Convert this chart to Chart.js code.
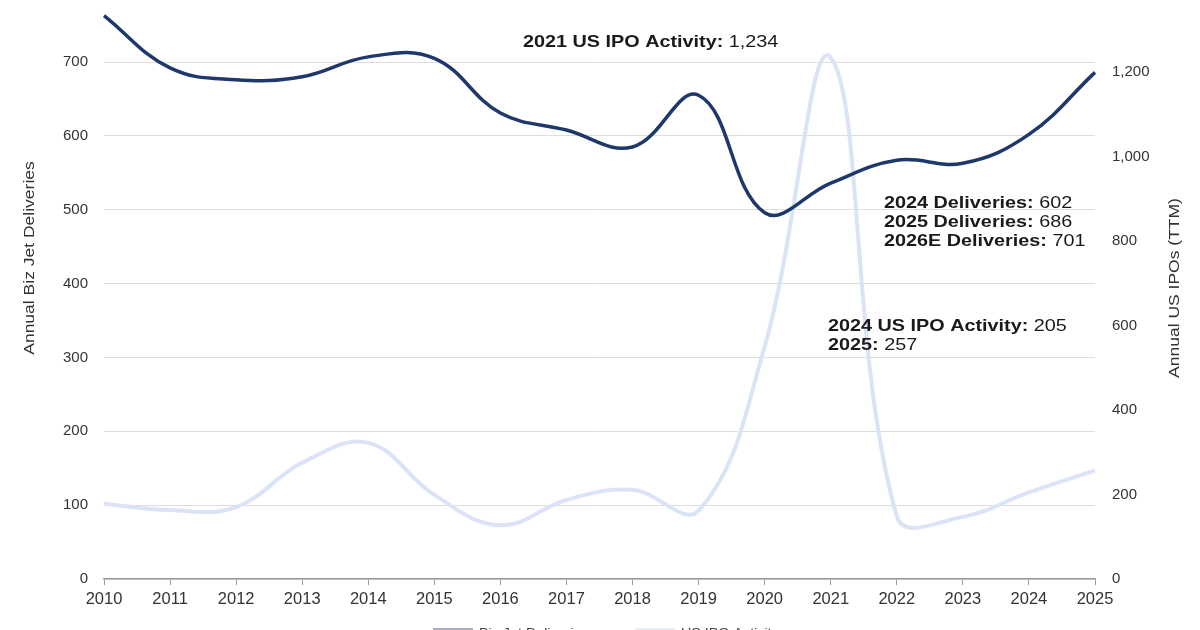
<!DOCTYPE html>
<html>
<head>
<meta charset="utf-8">
<script src="https://cdn.jsdelivr.net/npm/chart.js@4"></script>
<style>
html,body{margin:0;padding:0;background:#fff;overflow:hidden;}
#wrap{position:relative;width:1200px;height:630px;}
</style>
</head>
<body>
<div id="wrap"><canvas id="c"></canvas></div>
<script>
const years = ['2010','2011','2012','2013','2014','2015','2016','2017','2018','2019','2020','2021','2022','2023','2024','2025'];
const bizJetDeliveries = [763, 692, 676, 680, 707, 705, 631, 608, 585, 655, 496, 536, 567, 563, 602, 686];
const usIpoActivity = [178, 163, 170, 275, 322, 199, 127, 187, 211, 162, 550, 1234, 148, 147, 205, 257];
const leftTicks = [0, 100, 200, 300, 400, 500, 600, 700];
const rightTicks = [0, 200, 400, 600, 800, 1000, 1200];
const seriesNames = ['Biz Jet Deliveries', 'US IPO Activity'];
const axisTitles = ['Annual Biz Jet Deliveries', 'Annual US IPOs (TTM)'];
const annotations = [
  {lines: [[['2021 US IPO Activity: ', true], ['1,234', false]]], x: 523, y: 42},
  {lines: [
    [['2024 Deliveries: ', true], ['602', false]],
    [['2025 Deliveries: ', true], ['686', false]],
    [['2026E Deliveries: ', true], ['701', false]]
  ], x: 884, y: 203},
  {lines: [
    [['2024 US IPO Activity: ', true], ['205', false]],
    [['2025: ', true], ['257', false]]
  ], x: 828, y: 326}
];

const FONT = '"Liberation Sans", Arial, Helvetica, sans-serif';
const DARK = '#1e386b';
const LIGHT = '#dbe3f6';

const overlay = {
  id: 'overlay',
  afterDraw(chart) {
    const ctx = chart.ctx;
    ctx.save();
    ctx.fillStyle = '#333';
    ctx.font = '14px ' + FONT;
    ctx.textAlign = 'center';
    ctx.textBaseline = 'middle';
    ctx.save(); ctx.translate(30, 258); ctx.rotate(-Math.PI/2); ctx.scale(1.25, 1); ctx.fillText(axisTitles[0], 0, 0); ctx.restore();
    ctx.save(); ctx.translate(1175, 288); ctx.rotate(-Math.PI/2); ctx.scale(1.25, 1); ctx.fillText(axisTitles[1], 0, 0); ctx.restore();
    // legend (mostly cut off at the bottom edge, as in the reference)
    const legendX = [433, 635];
    chart.data.datasets.forEach((ds, i) => {
      const x0 = legendX[i];
      ctx.strokeStyle = i === 0 ? '#8a93a6' : '#e3e8f4';
      ctx.lineWidth = 1.5;
      ctx.beginPath(); ctx.moveTo(x0, 629); ctx.lineTo(x0 + 40, 629); ctx.stroke();
      ctx.save();
      ctx.translate(x0 + 46, 633);
      ctx.scale(1.1, 1);
      ctx.textAlign = 'left';
      ctx.fillStyle = '#444';
      ctx.font = '13px ' + FONT;
      ctx.fillText(ds.label, 0, 0);
      ctx.restore();
    });
    ctx.textAlign = 'left';
    ctx.fillStyle = '#1a1a1a';
    annotations.forEach(a => {
      a.lines.forEach((ln, i) => {
        const y = a.y + i * 19;
        ctx.save();
        ctx.translate(a.x, y);
        ctx.scale(1.2, 1);
        let x = 0;
        ln.forEach(([t, b]) => {
          ctx.font = (b ? 'bold ' : '') + '16.5px ' + FONT;
          ctx.fillText(t, x, 0);
          x += ctx.measureText(t).width;
        });
        ctx.restore();
      });
    });
    ctx.restore();
  }
};

new Chart(document.getElementById('c'), {
  type: 'line',
  data: {
    labels: years,
    datasets: [
      {label: seriesNames[0], data: bizJetDeliveries, yAxisID: 'y', borderColor: DARK, backgroundColor: DARK, borderWidth: 3.5, tension: 0.4, pointRadius: 0, fill: false},
      {label: seriesNames[1], data: usIpoActivity, yAxisID: 'y1', borderColor: LIGHT, backgroundColor: LIGHT, borderWidth: 4, tension: 0.4, pointRadius: 0, fill: false}
    ]
  },
  options: {
    responsive: true,
    maintainAspectRatio: false,
    animation: false,
    layout: {padding: {top: 0, bottom: 0, left: 0, right: 0}},
    plugins: {
      legend: {display: false},
      tooltip: {enabled: false}
    },
    scales: {
      x: {
        offset: false,
        afterFit: s => { s.height = 51; },
        grid: {drawOnChartArea: false, drawTicks: true, tickLength: 6, color: '#999'},
        border: {display: true, color: '#999', width: 1.5},
        ticks: {color: '#333', font: {family: FONT, size: 16.5}, padding: 5, maxRotation: 0, autoSkip: false}
      },
      y: {
        position: 'left',
        min: 0, max: 784,
        afterBuildTicks: s => { s.ticks = leftTicks.map(v => ({value: v})); },
        afterFit: s => { s.width = 104; s.paddingTop = 0; s.paddingBottom = 0; },
        grid: {color: '#dedede', lineWidth: 1, drawTicks: false},
        border: {display: false},
        ticks: {color: '#333', font: {family: FONT, size: 15}, padding: 16}
      },
      y1: {
        position: 'right',
        min: 0, max: 1370,
        afterBuildTicks: s => { s.ticks = rightTicks.map(v => ({value: v})); },
        afterFit: s => { s.width = 105; s.paddingTop = 0; s.paddingBottom = 0; },
        grid: {drawOnChartArea: false, drawTicks: false},
        border: {display: false},
        ticks: {color: '#333', font: {family: FONT, size: 15}, padding: 17,
          callback: v => v.toLocaleString('en-US')}
      }
    }
  },
  plugins: [overlay]
});
</script>
</body>
</html>
